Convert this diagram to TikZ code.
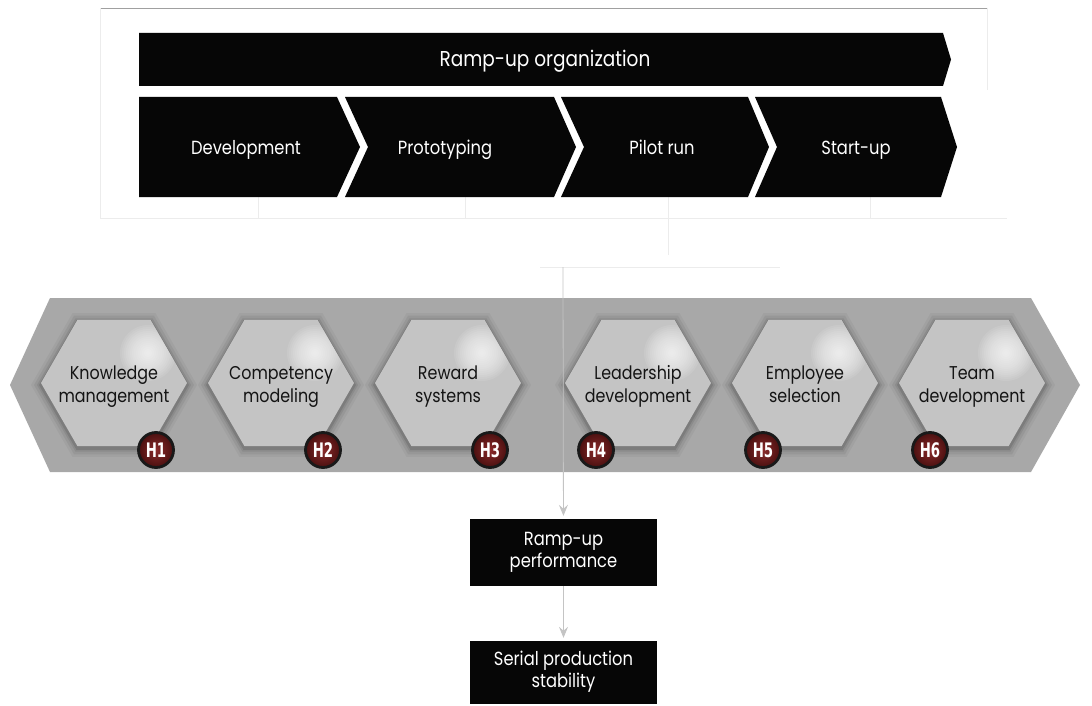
\documentclass[tikz,border=0pt]{standalone}
\usepackage{fontspec}
\setmainfont{Poppins}[FakeStretch=0.86]
\newfontfamily\badgefont{DejaVu Sans Condensed Bold}[FakeStretch=0.74]
\usetikzlibrary{shapes.geometric,arrows.meta}

\definecolor{phasefill}{HTML}{060606}
\definecolor{bandgray}{HTML}{A8A8A8}
\definecolor{hexgray}{HTML}{C4C4C4}
\definecolor{badgelight}{HTML}{8A2A2A}
\definecolor{badgedark}{HTML}{4A1010}
\definecolor{guide}{HTML}{ECECEC}
\definecolor{framegray}{HTML}{A0A0A0}
\definecolor{flowgray}{HTML}{C4C4C4}

\tikzset{
  phase/.style={fill=phasefill, draw=none},
  phasetext/.style={text=white, inner sep=0pt, anchor=base, font=\fontsize{19}{23}\selectfont},
  hexbase/.style={regular polygon, regular polygon sides=6, minimum size=146pt,
                  inner sep=0pt, outer sep=0pt},
  hexhalo/.style={hexbase, fill=black, draw=none},
  hexagon/.style={hexbase, fill=hexgray,
                  path picture={\foreach \r in {2,4,...,28}
                     \fill[white, opacity=0.09]
                       ([xshift=34pt,yshift=30pt]path picture bounding box.center) circle (\r pt);}},
  hextext/.style={align=center, text=black!92, inner sep=0pt,
                  font=\fontsize{18.5}{23}\selectfont},
  badge/.style={circle, minimum size=35pt, inner sep=0pt, draw=black!90, line width=2.8pt,
                inner color=badgelight, outer color=badgedark, text=white,
                font=\badgefont\fontsize{20}{20}\selectfont},
  outbox/.style={fill=phasefill, text=white, align=center, inner sep=0pt,
                 minimum width=187pt, font=\fontsize{19}{22}\selectfont},
  guideline/.style={draw=guide, line width=0.7pt},
  flow/.style={draw=flowgray, line width=0.8pt, -{Stealth[length=11pt,width=9pt,inset=4pt]},
               shorten >=3pt}
}

\begin{document}
\begin{tikzpicture}[x=1pt,y=-1pt]
\useasboundingbox (0,0) rectangle (1092,706);
\fill[white] (0,0) rectangle (1092,706);

% light frame around the process block and the bus joining the phases
\draw[framegray, line width=0.7pt] (100,8) -- (987,8);
\draw[guideline] (100,8) -- (100,218);
\draw[guideline] (987,8) -- (987,90);
\draw[guideline] (100,218) -- (1007,218);
\coordinate (g1) at (258,197);
\coordinate (g2) at (465,197);
\coordinate (g3) at (668,197);
\coordinate (g4) at (870,197);
\foreach \g in {g1,g2,g3,g4} \draw[guideline] (\g) -- (\g |- 0,218);
\coordinate (m1) at (540,267);
\coordinate (m2) at (780,267);
\draw[guideline] (m1) -- (m2);
\draw[guideline] (g3 |- 0,218) -- (g3 |- 0,255);
\coordinate (hub) at (563,267);

% ramp-up organization arrow
\fill[phase] (139,33) -- (943,33) -- (951,59.5) -- (943,86) -- (139,86) -- cycle;
\node[phasetext, font=\fontsize{21.5}{25}\selectfont] (org) at (545,67) {Ramp-up organization};

% phase chevrons
\fill[phase] (139,97) -- (337,97) -- (360,147) -- (337,197) -- (139,197) -- cycle;
\fill[phase] (345,97) -- (554,97) -- (576,147) -- (554,197) -- (345,197) -- (368,147) -- cycle;
\fill[phase] (561,97) -- (748,97) -- (769,147) -- (748,197) -- (561,197) -- (584,147) -- cycle;
\fill[phase] (755,97) -- (941,97) -- (957,147) -- (941,197) -- (755,197) -- (777,147) -- cycle;
\node[phasetext] (dev)   at (246,154) {Development};
\node[phasetext] (proto) at (445,154) {Prototyping};
\node[phasetext] (pilot) at (662,154) {Pilot run};
\node[phasetext] (start) at (856,154) {Start-up};

% grey band carrying the HR practices
\fill[bandgray] (50,298) -- (1031,298) -- (1080,385) -- (1031,472) -- (50,472) -- (10,385) -- cycle;

% practice hexagons with soft halos and labels
\foreach \cx/\nm/\ta/\tb in {114/km/Knowledge/management,
                             281/cm/Competency/modeling,
                             448/rs/Reward/systems,
                             638/ld/Leadership/development,
                             805/es/Employee/selection,
                             972/td/Team/development}{
  \foreach \s/\o in {166/0.04,160/0.06,154/0.08,150/0.10}
    \node[hexhalo, minimum size=\s pt, opacity=\o] at (\cx,385) {};
  \node[hexagon] (\nm) at (\cx,383) {};
  \node[hextext] (\nm-label) at (\cx,386) {\ta\strut\\\tb\strut};
}

% hypothesis badges
\node[badge] (h1) at (156,450) {H1};
\node[badge] (h2) at (323,450) {H2};
\node[badge] (h3) at (490,450) {H3};
\node[badge] (h4) at (596,450) {H4};
\node[badge] (h5) at (763,450) {H5};
\node[badge] (h6) at (930,450) {H6};

% outcomes
\node[outbox, minimum height=67pt] (perf) at (563.5,552.5) {Ramp-up\strut\\performance\strut};
\node[outbox, minimum height=63pt] (stab) at (563.5,672.5) {Serial production\strut\\stability\strut};

\draw[flow] (hub) -- (perf);
\draw[flow] (perf) -- (stab);
\end{tikzpicture}
\end{document}
